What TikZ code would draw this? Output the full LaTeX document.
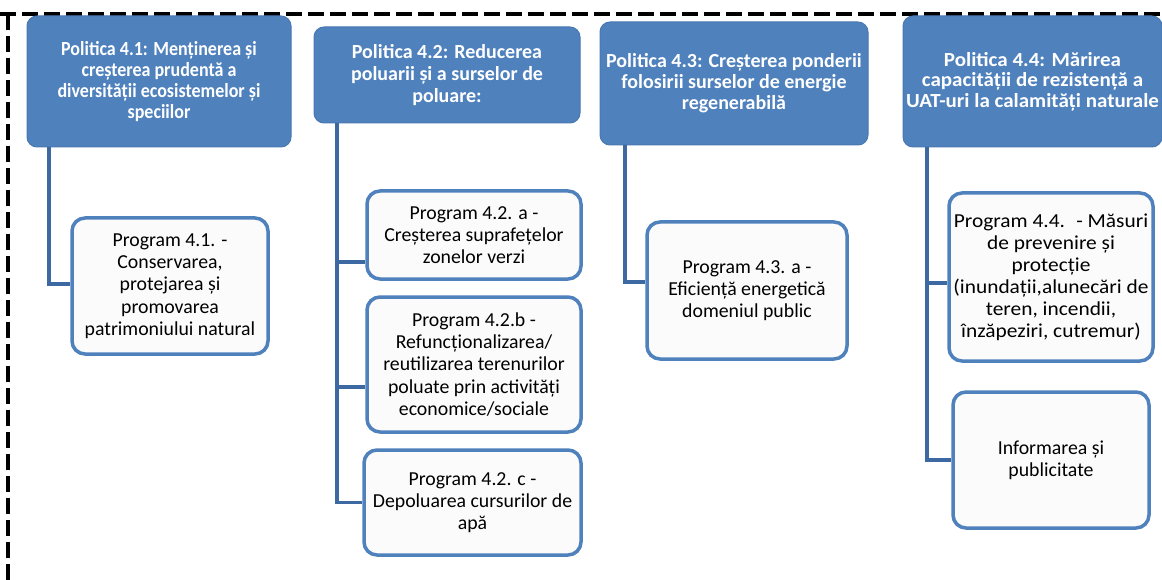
\documentclass[tikz,border=0pt]{standalone}
\usepackage{fontspec}
\setmainfont{Carlito}
\newfontfamily\condfont[FakeStretch=0.90]{Carlito}
\newfontfamily\normfont{Carlito}
\newfontfamily\widefont[FakeStretch=1.05]{Carlito}
\newfontfamily\progwide[FakeStretch=1.08]{Carlito}
\definecolor{hdrblue}{HTML}{4F81BD}
\definecolor{hdrborder}{HTML}{4A78B0}
\definecolor{progblue}{HTML}{4F81BD}
\definecolor{progfill}{HTML}{FBFBFB}
\definecolor{connblue}{HTML}{3D69A3}
\begin{document}
\begin{tikzpicture}[x=1pt,y=-1pt,
  hdr/.style={draw=hdrborder, line width=1pt, fill=hdrblue, rounded corners=10pt, text=white,
    font=\bfseries\fontsize{20}{21.5}\selectfont, align=center, inner sep=0pt},
  prog/.style={draw=progblue, line width=3.5pt, fill=progfill, rounded corners=13pt, text=black,
    font=\fontsize{19.8}{22.3}\selectfont, align=center, inner sep=0pt},
  conn/.style={draw=connblue, line width=3.5pt},
  border/.style={draw=black, line width=4.5pt, dash pattern=on 16pt off 6pt}]
\useasboundingbox (0,0) rectangle (1162,580);
\fill[white] (0,0) rectangle (1162,580);

% dashed frame (top and left sides visible)
\draw[border] (0,14) -- (1162,14);
\draw[border] (8,14) -- (8,580);

% policy headers
\node[hdr, font=\condfont\bfseries\fontsize{20}{20.7}\selectfont, minimum width=264pt, minimum height=131pt] (p41) at (159,81.5)
  {Politica 4.1: Menținerea și\\creșterea prudentă a\\diversității ecosistemelor și\\speciilor};
\node[hdr, font=\normfont\bfseries\fontsize{20}{22}\selectfont, minimum width=266pt, minimum height=96pt] (p42) at (447,75)
  {Politica 4.2: Reducerea\\poluarii și a surselor de\\poluare:};
\node[hdr, font=\normfont\bfseries\fontsize{20}{21}\selectfont, minimum width=268pt, minimum height=123pt] (p43) at (734,83.5)
  {Politica 4.3: Creșterea ponderii\\folosirii surselor de energie\\regenerabilă};
\node[hdr, font=\widefont\bfseries\fontsize{20}{20.5}\selectfont, minimum width=259pt, minimum height=131pt] (p44) at (1032.5,81.5)
  {Politica 4.4: Mărirea\\capacității de rezistență a\\UAT-uri la calamități naturale};

% programmes
\node[prog, minimum width=196pt, minimum height=136pt] (c41) at (170,286)
  {Program 4.1. -\\Conservarea,\\protejarea și\\promovarea\\patrimoniului natural};
\node[prog, minimum width=214pt, minimum height=88pt] (c42a) at (474,235)
  {Program 4.2. a -\\Creșterea suprafețelor\\zonelor verzi};
\node[prog, minimum width=214pt, minimum height=135pt] (c42b) at (474,364.5)
  {Program 4.2.b -\\Refuncționalizarea/\\reutilizarea terenurilor\\poluate prin activități\\economice/sociale};
\node[prog, minimum width=217pt, minimum height=105pt] (c42c) at (472.5,502.5)
  {Program 4.2. c -\\Depoluarea cursurilor de\\apă};
\node[prog, minimum width=200pt, minimum height=137pt] (c43) at (747,290.5)
  {Program 4.3. a -\\Eficiență energetică\\domeniul public};
\node[prog, font=\progwide\fontsize{19.8}{22}\selectfont, minimum width=204pt, minimum height=168pt] (c44a) at (1051,277)
  {Program 4.4.~ - Măsuri\\de prevenire și\\protecție\\(inundații,alunecări de\\teren, incendii,\\înzăpeziri, cutremur)};
\node[prog, minimum width=196pt, minimum height=136pt] (c44b) at (1051,460)
  {Informarea și\\publicitate};

% trunk positions
\coordinate (t41) at (49,0);
\coordinate (t42) at (337,0);
\coordinate (t43) at (625,0);
\coordinate (t44) at (927,0);

% connectors
\draw[conn] (t41 |- p41.south) |- ([yshift=2pt]c41.west);
\draw[conn] (t42 |- p42.south) |- ([yshift=-27pt]c42a.west);
\draw[conn] (t42 |- p42.south) |- ([yshift=-22.5pt]c42b.west);
\draw[conn] (t42 |- p42.south) |- (c42c.west);
\draw[conn] (t43 |- p43.south) |- ([yshift=8.5pt]c43.west);
\draw[conn] (t44 |- p44.south) |- ([yshift=-6pt]c44a.west);
\draw[conn] (t44 |- p44.south) |- (c44b.west);
\end{tikzpicture}
\end{document}
